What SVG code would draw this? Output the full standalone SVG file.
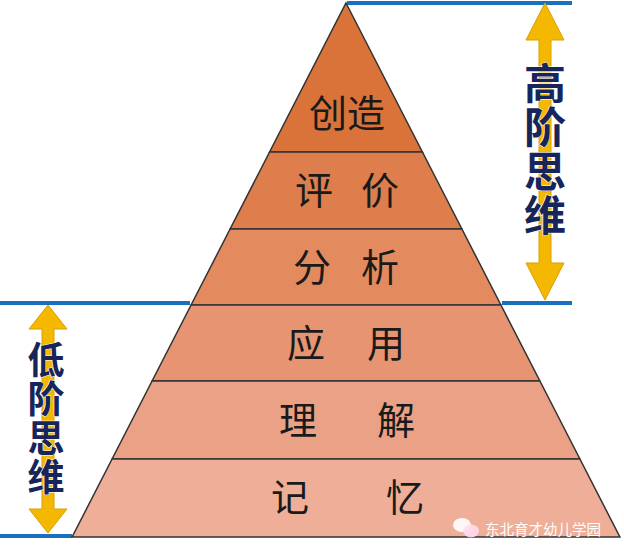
<svg xmlns="http://www.w3.org/2000/svg" width="624" height="557" viewBox="0 0 624 557">
<style>
.lvl{stroke:#333;stroke-width:1.5}
.lab{font-family:"Noto Sans CJK SC",sans-serif;font-size:38px;fill:#1a1a1a;text-anchor:middle}
.side{font-family:"Noto Sans CJK SC",sans-serif;font-weight:bold;fill:#17255a;stroke:#fff;stroke-width:1;paint-order:stroke;writing-mode:vertical-rl;text-anchor:middle}
.blue{stroke:#1a6fbf;stroke-width:4}
.arr{fill:#f5b800;stroke:#d9a000;stroke-width:1}
</style>
<rect width="624" height="557" fill="#fff"/>
<g id="guides">
<line class="blue" x1="347" y1="3" x2="572" y2="3"/>
<line class="blue" x1="0" y1="303" x2="190" y2="303"/>
<line class="blue" x1="502" y1="303" x2="572" y2="303"/>
<line class="blue" x1="0" y1="536" x2="72" y2="536"/>
</g>
<g id="l1"><polygon class="lvl" points="346,3 422.4,152 269.6,152" fill="#d9733a"/><text class="lab" x="347" y="127">创造</text></g>
<g id="l2"><polygon class="lvl" points="269.6,152 422.4,152 461.9,229 230.1,229" fill="#de7e4c"/><text class="lab" x="314" y="204">评</text><text class="lab" x="380" y="204">价</text></g>
<g id="l3"><polygon class="lvl" points="230.1,229 461.9,229 500.9,305 191.1,305" fill="#e38a5e"/><text class="lab" x="312" y="281">分</text><text class="lab" x="380" y="281">析</text></g>
<g id="l4"><polygon class="lvl" points="191.1,305 500.9,305 539.9,381 152.1,381" fill="#e69472"/><text class="lab" x="306" y="357">应</text><text class="lab" x="386" y="357">用</text></g>
<g id="l5"><polygon class="lvl" points="152.1,381 539.9,381 579.9,459 112.1,459" fill="#eaa185"/><text class="lab" x="298" y="434">理</text><text class="lab" x="396" y="434">解</text></g>
<g id="l6"><polygon class="lvl" points="112.1,459 579.9,459 619.9,537 72.1,537" fill="#eeae98"/><text class="lab" x="290" y="511">记</text><text class="lab" x="405" y="511">忆</text></g>
<g id="high">
<polygon class="arr" points="545,3 564,40 551,40 551,263 564,263 545,300 526,263 539,263 539,40 526,40"/>
<text class="side" x="545" y="150" font-size="42" letter-spacing="2">高阶思维</text>
</g>
<g id="low">
<polygon class="arr" points="48,305 67,329 54,329 54,509 67,509 48,533 29,509 42,509 42,329 29,329"/>
<text class="side" x="46" y="419" font-size="37" letter-spacing="2">低阶思维</text>
</g>
<g id="watermark">
<ellipse cx="462" cy="525" rx="9" ry="7" fill="#fff" opacity="0.9"/>
<ellipse cx="471" cy="531" rx="8" ry="6.5" fill="#fde" opacity="0.9"/>
<text x="485" y="535" font-family="Noto Sans CJK SC,sans-serif" font-size="14.5" fill="#fff">东北育才幼儿学园</text>
</g>
</svg>
